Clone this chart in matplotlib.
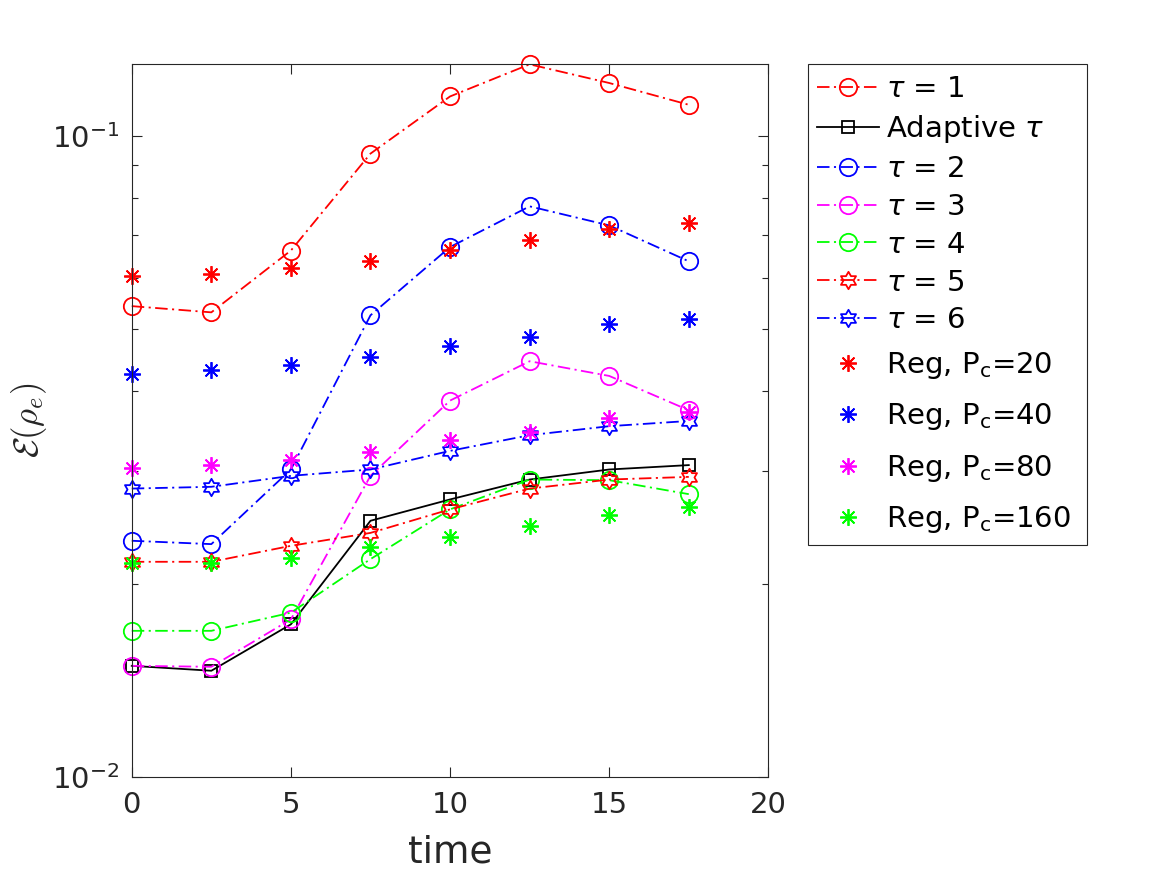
import numpy as np
import matplotlib
matplotlib.use("Agg")
import matplotlib.pyplot as plt
from matplotlib.path import Path
from matplotlib.patches import Rectangle
from matplotlib.ticker import LogLocator, NullFormatter, FixedLocator

# ---------------- data ----------------
time = [0, 2.5, 5, 7.5, 10, 12.5, 15, 17.5]
tau1 = [0.0543, 0.0531, 0.0663, 0.0939, 0.1153, 0.1294, 0.1210, 0.1119]
adaptive = [0.01492, 0.01466, 0.01732, 0.02512, 0.02712, 0.02913, 0.03020, 0.03068]
tau2 = [0.02338, 0.02310, 0.03020, 0.05254, 0.06714, 0.07770, 0.07256, 0.06378]
tau3 = [0.01492, 0.01487, 0.01763, 0.02952, 0.03868, 0.04455, 0.04226, 0.03736]
tau4 = [0.01692, 0.01692, 0.01806, 0.02189, 0.02617, 0.02913, 0.02906, 0.02764]
tau5 = [0.02168, 0.02168, 0.02296, 0.02405, 0.02617, 0.02820, 0.02913, 0.02941]
tau6 = [0.02820, 0.02838, 0.02952, 0.03020, 0.03229, 0.03416, 0.03528, 0.03595]
reg20 = [0.06043, 0.06087, 0.06227, 0.06378, 0.06636, 0.06893, 0.07171, 0.07316]
reg40 = [0.04263, 0.04324, 0.04391, 0.04524, 0.04701, 0.04861, 0.05088, 0.05193]
reg80 = [0.03031, 0.03068, 0.03123, 0.03217, 0.03356, 0.03458, 0.03627, 0.03714]
reg160 = [0.02160, 0.02160, 0.02194, 0.02288, 0.02371, 0.02464, 0.02563, 0.02635]

line_labels = [r'$\tau$ = 1', r'Adaptive $\tau$', r'$\tau$ = 2', r'$\tau$ = 3',
               r'$\tau$ = 4', r'$\tau$ = 5', r'$\tau$ = 6']
reg_labels = [r'Reg, P$_\mathrm{c}$=20', r'Reg, P$_\mathrm{c}$=40',
              r'Reg, P$_\mathrm{c}$=80', r'Reg, P$_\mathrm{c}$=160']
x_ticks = [0, 5, 10, 15, 20]

# ---------------- style ----------------
plt.rcParams['font.family'] = ['DejaVu Sans']
plt.rcParams['mathtext.fontset'] = 'dejavusans'
plt.rcParams['lines.scale_dashes'] = False

dark = (0.15, 0.15, 0.15)
RED, BLUE, MAG, GRN = (1, 0, 0), (0, 0, 1), (1, 0, 1), (0, 1, 0)
dashdot = (0, (9.0, 3.2, 1.5, 3.2))

# hexagram marker path
ang_out = np.deg2rad(90 + 60 * np.arange(6))
ang_in = np.deg2rad(120 + 60 * np.arange(6))
r_in = 1 / np.sqrt(3)
verts = []
for ao, ai in zip(ang_out, ang_in):
    verts.append((np.cos(ao), np.sin(ao)))
    verts.append((r_in * np.cos(ai), r_in * np.sin(ai)))
verts.append(verts[0])
codes = [Path.MOVETO] + [Path.LINETO] * (len(verts) - 2) + [Path.CLOSEPOLY]
hexagram = Path(verts, codes)
asterisk = (8, 2, 0)

W, H = 1167, 875
fig = plt.figure(figsize=(W / 100, H / 100), dpi=100)
ax = fig.add_axes([0.1129, 0.1117, 0.5455, 0.8148])

lw = 1.3
mew = 1.3
common = dict(lw=lw, mfc='none', mew=mew, clip_on=False)
h = []
h += ax.plot(time, tau1, color=RED, ls=dashdot, marker='o', ms=12.5, label=line_labels[0], **common)
h += ax.plot(time, adaptive, color='k', ls='-', marker='s', ms=8.5, label=line_labels[1], **common)
h += ax.plot(time, tau2, color=BLUE, ls=dashdot, marker='o', ms=12.5, label=line_labels[2], **common)
h += ax.plot(time, tau3, color=MAG, ls=dashdot, marker='o', ms=12.5, label=line_labels[3], **common)
h += ax.plot(time, tau4, color=GRN, ls=dashdot, marker='o', ms=12.5, label=line_labels[4], **common)
h += ax.plot(time, tau5, color=RED, ls=dashdot, marker=hexagram, ms=12.5, label=line_labels[5], **common)
h += ax.plot(time, tau6, color=BLUE, ls=dashdot, marker=hexagram, ms=12.5, label=line_labels[6], **common)
hr = []
for vals, col, lab in zip([reg20, reg40, reg80, reg160], [RED, BLUE, MAG, GRN], reg_labels):
    hr += ax.plot(time, vals, ls='none', color=col, marker=asterisk, ms=12,
                  mew=mew, label=lab, clip_on=False)

ax.set_yscale('log')
ax.set_xlim(0, 20)
ax.set_ylim(0.01, max(tau1))
ax.xaxis.set_major_locator(FixedLocator(x_ticks))
ax.yaxis.set_major_locator(LogLocator(base=10, numticks=10))
ax.yaxis.set_minor_locator(LogLocator(base=10, subs=np.arange(2, 10), numticks=10))
ax.yaxis.set_minor_formatter(NullFormatter())

ax.tick_params(which='both', direction='in', top=True, right=True,
               colors=dark, labelcolor=dark, width=0.8)
ax.tick_params(which='major', length=7, labelsize=21)
ax.tick_params(which='minor', length=4)
ax.tick_params(axis='x', pad=10)
ax.tick_params(axis='y', pad=9)
for sp in ax.spines.values():
    sp.set_color(dark)
    sp.set_linewidth(0.8)

ax.set_xlabel('time', fontsize=27, color=dark, labelpad=11)
ax.set_ylabel(r'$\mathcal{E}(\rho_e)$', fontsize=25, color=dark, labelpad=2,
              math_fontfamily='cm')

# ---------------- legend (two stacked parts inside one frame) ----------------
leg_kw = dict(loc='upper left', bbox_transform=fig.transFigure, borderaxespad=0,
              fontsize=21, frameon=False, handlelength=2.12, handletextpad=0.25,
              borderpad=0)
legA = fig.legend(h, line_labels, bbox_to_anchor=(816.7 / W, 1 - 75 / H),
                  labelspacing=0.34, **leg_kw)
legB = fig.legend(hr, reg_labels, bbox_to_anchor=(816.7 / W, 1 - 350 / H),
                  labelspacing=0.70, **leg_kw)
fig.add_artist(Rectangle((808 / W, 1 - 545 / H), 279 / W, 481 / H,
                         transform=fig.transFigure, fill=False, ec=dark, lw=0.8))

fig.savefig('out.png', dpi=100, facecolor='white')
